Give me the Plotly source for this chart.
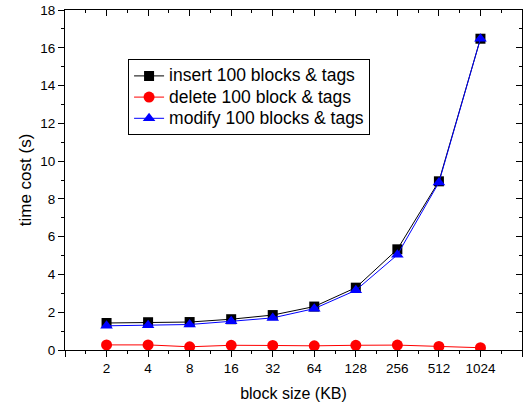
import plotly.graph_objects as go

block_sizes = ["2", "4", "8", "16", "32", "64", "128", "256", "512", "1024"]
insert_vals = [1.43, 1.47, 1.48, 1.63, 1.85, 2.30, 3.30, 5.33, 8.93, 16.48]
delete_vals = [0.27, 0.27, 0.17, 0.25, 0.24, 0.22, 0.25, 0.26, 0.19, 0.12]
modify_vals = [1.28, 1.31, 1.35, 1.52, 1.70, 2.19, 3.16, 5.04, 8.87, 16.48]
series_names = ["insert 100 blocks &amp; tags",
                "delete 100 block &amp; tags",
                "modify 100 blocks &amp; tags"]

xpos = list(range(1, len(block_sizes) + 1))
FONT = "Liberation Sans, Arial, sans-serif"


def big(name):
    return '<span style="font-size:17.5px">' + name + '</span>'


fig = go.Figure()
fig.add_trace(go.Scatter(x=xpos, y=insert_vals, mode="lines+markers",
                         name=big(series_names[0]),
                         line=dict(color="black", width=1),
                         marker=dict(symbol="square", size=10, color="black")))
fig.add_trace(go.Scatter(x=xpos, y=delete_vals, mode="lines+markers",
                         name=big(series_names[1]),
                         line=dict(color="red", width=1),
                         marker=dict(symbol="circle", size=11, color="red")))
fig.add_trace(go.Scatter(x=xpos, y=modify_vals, mode="lines+markers",
                         name=big(series_names[2]),
                         line=dict(color="blue", width=1),
                         marker=dict(symbol="triangle-up", size=11, color="blue")))
# invisible trace for mirrored axes (top/right, inward ticks)
fig.add_trace(go.Scatter(x=[0], y=[0], xaxis="x2", yaxis="y2", mode="markers",
                         marker=dict(opacity=0), showlegend=False, hoverinfo="skip"))

fig.update_layout(
    width=523, height=404,
    margin=dict(l=65, r=1, t=10, b=54, autoexpand=False),
    paper_bgcolor="white", plot_bgcolor="white",
    font=dict(family=FONT, size=13.5, color="black"),
    showlegend=True,
    legend=dict(x=0.138, y=0.855, xanchor="left", yanchor="top",
                bordercolor="black", borderwidth=1, bgcolor="white",
                font=dict(size=14, family=FONT), tracegroupgap=0,
                itemwidth=30),
    xaxis=dict(range=[0, 11], tickmode="array", automargin=False,
               tickvals=[0] + xpos + [11], ticktext=[""] + block_sizes + [""],
               ticks="outside", ticklen=6, tickwidth=1, tickcolor="black",
               minor=dict(tickmode="array",
                          tickvals=[i + 0.5 for i in range(11)],
                          ticks="outside", ticklen=3, tickcolor="black"),
               showline=True, linecolor="black", linewidth=1,
               showgrid=False, zeroline=False,
               title=dict(text="block size (KB)", font=dict(size=16), standoff=12)),
    yaxis=dict(range=[0, 18], tickmode="linear", tick0=0, dtick=2, automargin=False,
               ticks="outside", ticklen=6, tickwidth=1, tickcolor="black",
               minor=dict(dtick=1, ticks="outside", ticklen=3, tickcolor="black"),
               showline=True, linecolor="black", linewidth=1,
               showgrid=False, zeroline=False,
               title=dict(text="time cost (s)", font=dict(size=17), standoff=4)),
    xaxis2=dict(range=[0, 11], overlaying="x", side="top", automargin=False,
                tickmode="array", tickvals=[0] + xpos + [11],
                ticks="inside", ticklen=6, tickcolor="black",
                minor=dict(tickmode="array",
                           tickvals=[i + 0.5 for i in range(11)],
                           ticks="inside", ticklen=3, tickcolor="black"),
                showticklabels=False, showline=True, linecolor="black",
                showgrid=False, zeroline=False),
    yaxis2=dict(range=[0, 18], overlaying="y", side="right", automargin=False,
                tickmode="linear", tick0=0, dtick=2,
                ticks="inside", ticklen=6, tickcolor="black",
                minor=dict(dtick=1, ticks="inside", ticklen=3, tickcolor="black"),
                showticklabels=False, showline=True, linecolor="black",
                showgrid=False, zeroline=False),
)

fig.write_html("out.html", config={"displayModeBar": False},
               post_script="document.body.style.margin='0';document.body.style.overflow='hidden';")
